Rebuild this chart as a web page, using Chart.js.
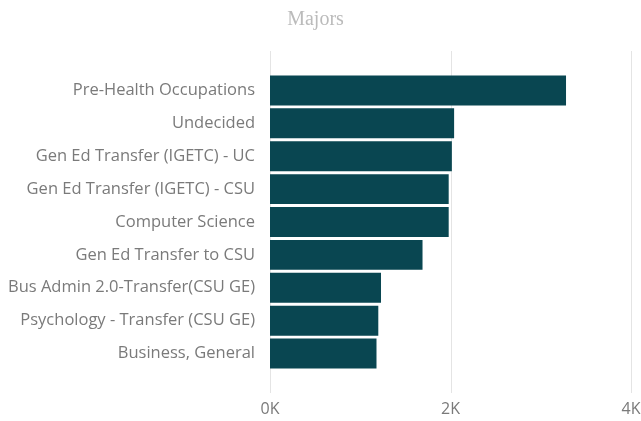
<!DOCTYPE html>
<html>
<head>
<meta charset="utf-8">
<script src="https://cdn.jsdelivr.net/npm/chart.js@4.4.1/dist/chart.umd.min.js"></script>
<style>
  html, body { margin: 0; padding: 0; background: #fff; }
</style>
</head>
<body>
<canvas id="majorsChart" width="641" height="421"></canvas>
<script>
const majors = [
  "Pre-Health Occupations",
  "Undecided",
  "Gen Ed Transfer (IGETC) - UC",
  "Gen Ed Transfer (IGETC) - CSU",
  "Computer Science",
  "Gen Ed Transfer to CSU",
  "Bus Admin 2.0-Transfer(CSU GE)",
  "Psychology - Transfer (CSU GE)",
  "Business, General"
];
const students = [3280, 2040, 2015, 1980, 1980, 1690, 1230, 1200, 1180];
const xTicks = [0, 2000, 4000];

const labelGrey = "#7a7a7a";

// gridlines in the original run a bit past the bars at top and bottom
const longGrid = {
  id: "longGrid",
  beforeDatasetsDraw(chart) {
    const { ctx, chartArea, scales } = chart;
    ctx.save();
    ctx.strokeStyle = "#e4e4e4";
    ctx.lineWidth = 1;
    scales.x.ticks.forEach(t => {
      const px = Math.round(scales.x.getPixelForValue(t.value)) + 0.5;
      ctx.beginPath();
      ctx.moveTo(px, chartArea.top - 23);
      ctx.lineTo(px, chartArea.bottom + 23);
      ctx.stroke();
    });
    ctx.restore();
  }
};

new Chart(document.getElementById("majorsChart"), {
  type: "bar",
  data: {
    labels: majors,
    datasets: [{
      label: "Students",
      data: students,
      backgroundColor: "#094651",
      borderWidth: 0,
      barPercentage: 0.91,
      categoryPercentage: 1.0
    }]
  },
  options: {
    indexAxis: "y",
    responsive: false,
    animation: false,
    layout: { padding: { left: 0, right: 10, top: 0, bottom: 2 } },
    plugins: {
      legend: { display: false },
      tooltip: { enabled: false },
      title: {
        display: true,
        text: "Majors",
        color: "#bbbbbb",
        font: { family: "'Liberation Serif', serif", size: 20, weight: "normal" },
        padding: { top: 8, bottom: 42 }
      }
    },
    scales: {
      x: {
        min: 0,
        max: 4000,
        afterBuildTicks(scale) {
          scale.ticks = xTicks.map(v => ({ value: v }));
        },
        afterFit(scale) {
          scale.paddingRight = 0;
          scale.paddingLeft = 0;
          scale.height = 49;
        },
        grid: { display: false, drawTicks: false },
        border: { display: false },
        ticks: {
          color: labelGrey,
          padding: 30,
          maxRotation: 0,
          font: { family: "'Open Sans', sans-serif", size: 16 },
          callback: v => (v / 1000) + "K"
        }
      },
      y: {
        afterFit(scale) {
          scale.width = 270;
        },
        grid: { display: false, drawTicks: false },
        border: { display: false },
        ticks: {
          color: labelGrey,
          padding: 15,
          autoSkip: false,
          font: { family: "'Open Sans', sans-serif", size: 16.5 }
        }
      }
    }
  },
  plugins: [longGrid]
});
</script>
</body>
</html>
